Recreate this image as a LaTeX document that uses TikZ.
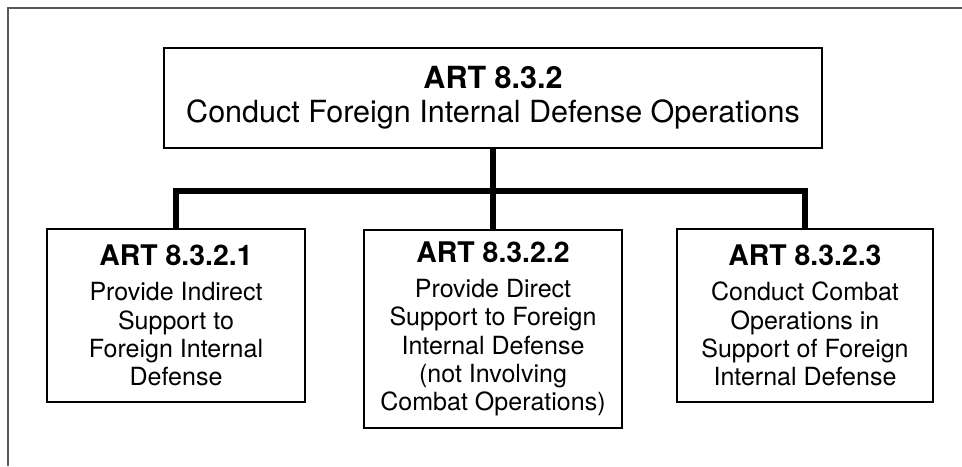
\documentclass[tikz,border=0pt]{standalone}
\usepackage{fontspec}
\setmainfont{TeX Gyre Heros}

\begin{document}
\begin{tikzpicture}[
 task/.style={draw,line width=2.1pt,align=center,inner sep=0pt,minimum width=6.45cm,font=\fontsize{17.8}{20.1}\selectfont},
 link/.style={line width=3.6pt}]
\useasboundingbox (0,0) rectangle (24.05,11.65);
\draw[black!65,line width=1.4pt] (0.2,0) -- (0.2,11.45) -- (24.05,11.45);
\node[task,minimum width=16.45cm,minimum height=2.5cm,font=\fontsize{21.7}{24.2}\selectfont] (top) at (12.325,9.2) {\textbf{ART 8.3.2}\\Conduct Foreign Internal Defense Operations};
\node[task,minimum height=4.325cm] (a1) at (4.4,3.7625) {{\fontsize{20.2}{20.1}\selectfont\bfseries ART 8.3.2.1}\\[4.8pt]Provide Indirect\\Support to\\Foreign Internal\\Defense};
\node[task,minimum height=4.95cm] (a2) at (12.325,3.425) {{\fontsize{20.2}{20.1}\selectfont\bfseries ART 8.3.2.2}\\[4.8pt]Provide Direct\\Support to Foreign\\Internal Defense\\(not Involving\\Combat Operations)};
\node[task,minimum width=6.4cm,minimum height=4.325cm] (a3) at (20.125,3.7625) {{\fontsize{20.2}{20.1}\selectfont\bfseries ART 8.3.2.3}\\[4.8pt]Conduct Combat\\Operations in\\Support of Foreign\\Internal Defense};
\coordinate (bus) at (12.325,6.875);
\draw[link] (top) -- (a2);
\draw[link] (a1) |- (bus) -| (a3);
\end{tikzpicture}
\end{document}
